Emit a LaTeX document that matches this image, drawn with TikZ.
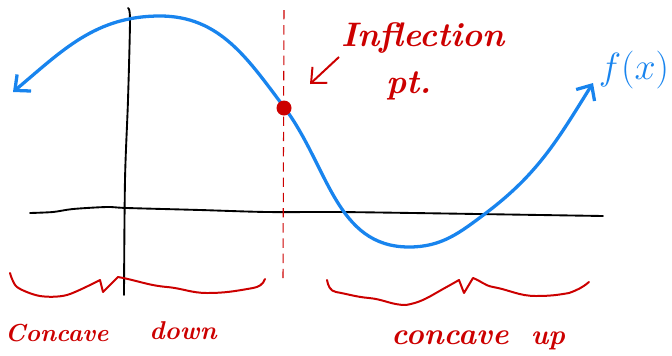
\documentclass[tikz,border=0pt]{standalone}
\usepackage{tikz}
\usetikzlibrary{arrows.meta}
\definecolor{curveblue}{RGB}{24,132,238}
\definecolor{inkred}{RGB}{204,0,0}

\begin{document}
\begin{tikzpicture}[
    x=0.03cm, y=-0.03cm,
    curve/.style={curveblue, line width=2.8pt, line cap=round, line join=round},
    axis/.style={black, line width=1.6pt, line cap=round, line join=round},
    brace/.style={inkred, line width=1.7pt, line cap=round, line join=round},
    barb/.style={line width=#1, -{Straight Barb[length=3.6mm, width=6.5mm]}},
    note/.style={inkred, font=\fontsize{29}{31}\selectfont\bfseries\itshape},
    region/.style={inkred, font=\fontsize{#1}{26}\selectfont\bfseries\itshape}
]
\useasboundingbox (0,0) rectangle (672,355);

% axes
\draw[axis] plot[smooth] coordinates {(30,213) (53,212) (73,209) (107,207) (127,208) (200,210) (267,212) (336,212) (413,213) (603,216)};
\draw[axis] plot[smooth] coordinates {(128,8) (130,20) (128,100) (125,180) (124,295)};

% dashed line through the inflection point
\draw[inkred, line width=0.9pt, dash pattern=on 8pt off 5pt] (284,10) -- (283,278);

% the function
\draw[curve, {Straight Barb[length=3.6mm, width=6.5mm]}-{Straight Barb[length=3.6mm, width=6.5mm]}]
    (13,92) to[out=40,in=180] (160,16) to[out=0,in=127] (284,107)
    to[out=-53,in=180] (409,247) to[out=0,in=-143] (486,213) to[out=37,in=-122] (593,83);
\node[curveblue, font=\Huge, scale=1.3] (fx) at (634,70) {$f(x)$};

% inflection point and its label
\node[circle, fill=inkred, inner sep=0pt, minimum size=0.45cm] (inflpt) at (284,108) {};
\node[note] (infl) at (423,38) {Inflection};
\node[note] (pt) at (409,86) {pt.};
\coordinate (tail) at (339,57);
\coordinate (head) at (310,84);
\draw[inkred, barb=1.7pt] (tail) -- (head);

% braces under the regions
\draw[brace] plot[smooth, tension=0.5] coordinates {(10,273) (17,287) (40,296) (67,295) (100,280)}
    -- (103,292) -- (118,277) to[out=-10,in=175] (167,287) to[out=-5,in=180] (207,293)
    to[out=0,in=190] (253,288) to[out=10,in=-110] (265,279);
\draw[brace] (327,280) to[out=-80,in=170] (336,292) to[out=-10,in=175] (369,298)
    to[out=-5,in=180] (406,305) to[out=10,in=-150] (436,293) to[out=30,in=-150] (459,280)
    -- (464,293) -- (473,278) to[out=-20,in=170] (493,287) to[out=-10,in=180] (536,296)
    to[out=0,in=190] (569,293) to[out=20,in=-140] (589,282);

% region labels
\node[region=21, anchor=west, inner sep=0pt] (cd1) at (5,333) {Concave};
\node[region=22] (cd2) at (183,331) {down};
\node[region=26] (cu1) at (450,338) {concave};
\node[region=24] (cu2) at (548,341) {up};
\end{tikzpicture}
\end{document}
